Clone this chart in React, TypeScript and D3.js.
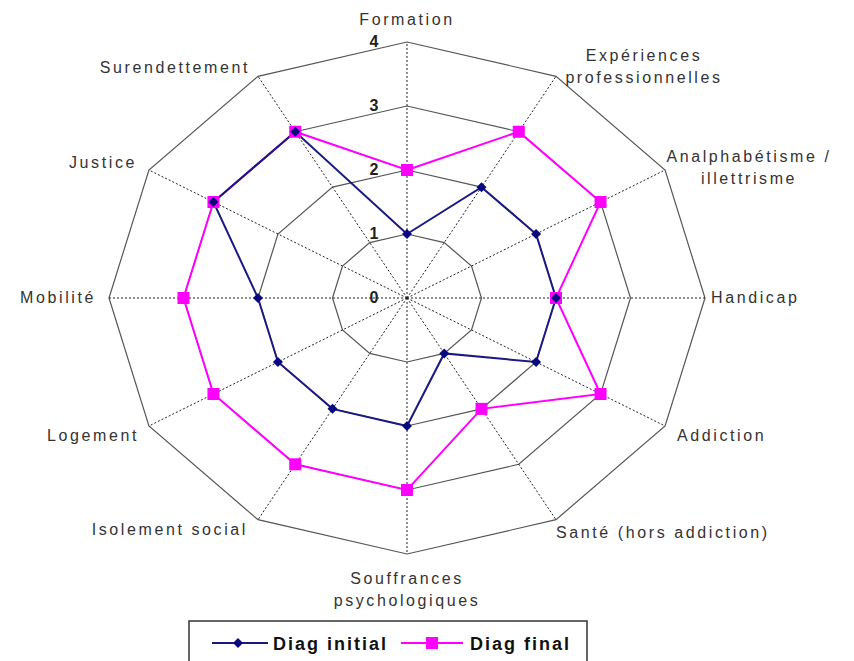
import React from "react";
import * as d3 from "d3";

const axes = [
  "Formation",
  "Expériences professionnelles",
  "Analphabétisme / illettrisme",
  "Handicap",
  "Addiction",
  "Santé (hors addiction)",
  "Souffrances psychologiques",
  "Isolement social",
  "Logement",
  "Mobilité",
  "Justice",
  "Surendettement",
];
const diagInitial = [1, 2, 2, 2, 2, 1, 2, 2, 2, 2, 3, 3];
const diagFinal = [2, 3, 3, 2, 3, 2, 3, 3, 3, 3, 3, 3];
const levels = [0, 1, 2, 3, 4];

// label lines + placement (anchor, x, y of first line)
const labelLines: string[][] = [
  ["Formation"],
  ["Expériences", "professionnelles"],
  ["Analphabétisme /", "illettrisme"],
  ["Handicap"],
  ["Addiction"],
  ["Santé (hors addiction)"],
  ["Souffrances", "psychologiques"],
  ["Isolement social"],
  ["Logement"],
  ["Mobilité"],
  ["Justice"],
  ["Surendettement"],
];
const labelPos: [string, number, number][] = [
  ["middle", 407, 25],
  ["middle", 644, 61],
  ["middle", 749, 162],
  ["start", 711, 303],
  ["start", 677, 441],
  ["start", 556, 538],
  ["middle", 407, 584],
  ["end", 248, 535],
  ["end", 139, 441],
  ["end", 96, 303],
  ["end", 137, 168],
  ["end", 250, 73],
];

const cx = 407;
const cy = 298;
const rx = d3.scaleLinear().domain([0, 4]).range([0, 298]);
const ry = d3.scaleLinear().domain([0, 4]).range([0, 256]);

const pt = (i: number, v: number): [number, number] => {
  const a = (i / axes.length) * 2 * Math.PI;
  return [cx + rx(v) * Math.sin(a), cy - ry(v) * Math.cos(a)];
};

const line = d3.line<[number, number]>().curve(d3.curveLinearClosed);

export default function App() {
  const font = "'Liberation Sans', Arial, sans-serif";
  const initPts = diagInitial.map((v, i) => pt(i, v));
  const finalPts = diagFinal.map((v, i) => pt(i, v));
  return (
    <svg width={854} height={661} style={{ position: "absolute", left: 0, top: 0, background: "#fff" }}>
      {/* grid */}
      {levels.slice(1).map((l) => (
        <path
          key={l}
          d={line(axes.map((_, i) => pt(i, l))) || ""}
          fill="none"
          stroke="#555"
          strokeWidth={1.2}
        />
      ))}
      {axes.map((_, i) => {
        const [x, y] = pt(i, 4);
        return (
          <line key={i} x1={cx} y1={cy} x2={x} y2={y} stroke="#222" strokeWidth={1} strokeDasharray="2,2" />
        );
      })}
      {levels.map((l) => (
        <text
          key={l}
          x={374}
          y={cy - ry(l) + 5}
          textAnchor="middle"
          fontFamily={font}
          fontWeight="bold"
          fontSize={16}
          fill="#222"
        >
          {l}
        </text>
      ))}
      {/* series */}
      <path d={line(finalPts) || ""} fill="none" stroke="#ff00ff" strokeWidth={2} />
      <path d={line(initPts) || ""} fill="none" stroke="#1a1a80" strokeWidth={2} />
      {finalPts.map(([x, y], i) => (
        <rect key={i} x={x - 6} y={y - 6} width={12} height={12} fill="#ff00ff" />
      ))}
      {initPts.map(([x, y], i) => (
        <path key={i} d={`M${x},${y - 5}L${x + 5},${y}L${x},${y + 5}L${x - 5},${y}Z`} fill="#0a0a80" />
      ))}
      {/* axis labels */}
      {labelLines.map((lines, i) => {
        const [anchor, x, y] = labelPos[i];
        return (
          <text
            key={i}
            x={x}
            y={y}
            textAnchor={anchor}
            fontFamily={font}
            fontSize={16}
            letterSpacing={2.6}
            fill="#333"
          >
            {lines.map((t, j) => (
              <tspan key={j} x={x} dy={j === 0 ? 0 : 22}>
                {t}
              </tspan>
            ))}
          </text>
        );
      })}
      {/* legend */}
      <rect x={189} y={621} width={398} height={50} fill="#fff" stroke="#333" strokeWidth={1.5} />
      <line x1={212} x2={268} y1={643} y2={643} stroke="#1a1a80" strokeWidth={2} />
      <path d="M238,638L243,643L238,648L233,643Z" fill="#0a0a80" />
      <text x={273} y={650} fontFamily={font} fontWeight="bold" fontSize={18} letterSpacing={2} fill="#111">
        Diag initial
      </text>
      <line x1={401} x2={463} y1={643} y2={643} stroke="#ff00ff" strokeWidth={2} />
      <rect x={426} y={637} width={12} height={12} fill="#ff00ff" />
      <text x={470} y={650} fontFamily={font} fontWeight="bold" fontSize={18} letterSpacing={2} fill="#111">
        Diag final
      </text>
    </svg>
  );
}
